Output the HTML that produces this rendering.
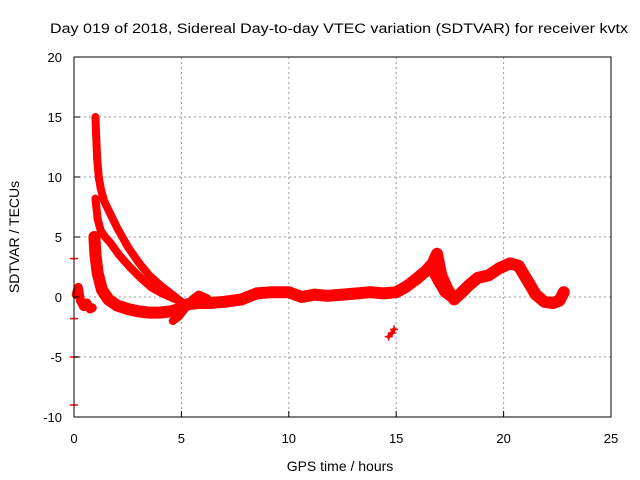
<!DOCTYPE html>
<html><head><meta charset="utf-8"><style>
html,body{margin:0;padding:0;background:#fff;}
svg{display:block;font-family:"Liberation Sans",sans-serif;}
</style></head><body>
<svg id="chart" width="640" height="480">
<text x="50" y="33" font-size="13.5" textLength="578" lengthAdjust="spacingAndGlyphs">Day 019 of 2018, Sidereal Day-to-day VTEC variation (SDTVAR) for receiver kvtx</text>
<g id="grid"></g>
<g id="series"></g>
<rect x="74" y="57" width="537" height="360" fill="none" stroke="#000" stroke-width="1"/>
<g id="ticks"></g>
<text x="340" y="471" font-size="14" text-anchor="middle">GPS time / hours</text>
<text transform="translate(19,237) rotate(-90)" font-size="14" text-anchor="middle">SDTVAR / TECUs</text>
</svg>
<script>
const xTicks=[0,5,10,15,20,25];
const yTicks=[-10,-5,0,5,10,15,20];
const traceUpperH=[1.0,1.03,1.08,1.15,1.25,1.4,1.7,2.0,2.5,3.0,3.5,4.0,4.5,5.0];
const traceUpperV=[15,13.5,11.5,10,9,8,6.9,5.8,4.2,2.9,1.8,1.0,0.3,-0.4];
const traceMidH=[1.0,1.1,1.25,1.45,1.7,2.1,2.6,3.1,3.6,4.1,4.6,5.0];
const traceMidV=[8.2,6.5,5.5,5.0,4.5,3.5,2.5,1.6,0.8,0.3,-0.1,-0.4];
const traceLowH=[0.95,1.0,1.1,1.3,1.6,2.0,2.5,3.0,3.5,4.0,4.5,4.9,5.3,5.8,6.3,7.0,7.8,8.5,9.2,10.0,10.6,11.2,11.8,12.5,13.2,13.8,14.4,15.0,15.5,16.0,16.4,16.7,16.9,17.1,17.4,17.7,18.0,18.4,18.8,19.3,19.8,20.3,20.7,21.1,21.5,21.9,22.3,22.6,22.8];
const traceLowV=[5,3.5,2,0.6,-0.2,-0.7,-1.0,-1.2,-1.3,-1.3,-1.2,-1.0,-0.6,-0.5,-0.5,-0.4,-0.2,0.3,0.4,0.4,0.0,0.2,0.1,0.2,0.3,0.4,0.3,0.4,0.9,1.6,2.2,2.8,3.6,1.8,0.6,-0.2,0.3,1.0,1.6,1.8,2.4,2.8,2.6,1.4,0.2,-0.4,-0.5,-0.3,0.4];
const traceDipH=[4.6,4.9,5.2,5.5,5.8,6.2];
const traceDipV=[-2.0,-1.6,-0.9,-0.2,0.2,-0.1];
const traceBranchH=[16.0,16.3,16.6,16.9,17.2,17.5];
const traceBranchV=[1.3,1.8,2.2,1.2,0.3,-0.1];
const traceEarlyH=[0.1,0.2,0.3,0.45,0.6,0.75,0.85];
const traceEarlyV=[0.2,0.8,-0.3,-0.8,-0.5,-1.0,-0.9];
const traceIsoH=[14.65,14.8,14.9];
const traceIsoV=[-3.3,-3.0,-2.7];
const loneH=[0.0,0.0,0.0,0.0];
const loneV=[3.2,-1.8,-5.0,-9.0];

const X=h=>74+h*(537/25);
const Y=v=>297-v*12;
const NS="http://www.w3.org/2000/svg";
const grid=document.getElementById('grid'),ticks=document.getElementById('ticks'),ser=document.getElementById('series'),svg=document.getElementById('chart');
function mk(tag,at,parent){const e=document.createElementNS(NS,tag);for(const k in at)e.setAttribute(k,at[k]);parent.appendChild(e);return e;}
xTicks.forEach(t=>{
  const x=X(t);
  if(t>0&&t<25){const g=mk('line',{x1:x,y1:57,x2:x,y2:417,stroke:'#999','stroke-dasharray':'2,3'},grid);
  
  }
  const tk=mk('line',{x1:x,y1:417,x2:x,y2:411,stroke:'#000'},ticks);
  
  
  const lb=mk('text',{x:x,y:443,'font-size':13,'text-anchor':'middle'},svg);lb.textContent=t;
  
  
});
yTicks.forEach(t=>{
  const y=Y(t);
  if(t>-10&&t<20){const g=mk('line',{x1:74,y1:y,x2:611,y2:y,stroke:'#999','stroke-dasharray':'2,3'},grid);
  
  }
  const tk=mk('line',{x1:74,y1:y,x2:80,y2:y,stroke:'#000'},ticks);
  
  
  const lb=mk('text',{x:62,y:y+5,'font-size':13,'text-anchor':'end'},svg);lb.textContent=t;
  
  
});
function trace(H,V,w,name){
  if(H.length>1){const pl=mk('polyline',{points:H.map((h,i)=>X(h)+','+Y(V[i])).join(' '),fill:'none',stroke:'#f00','stroke-width':w,'stroke-linejoin':'round','stroke-linecap':'round'},ser);
  
  }
  H.forEach((h,i)=>{const x=X(h),y=Y(V[i]);
    const p=mk('path',{d:`M${x-4},${y}H${x+4}M${x},${y-4}V${y+4}`,stroke:'#f00','stroke-width':1.5},ser);
    
    });
}
trace(traceUpperH,traceUpperV,8,'upper-trace');
trace(traceMidH,traceMidV,8,'middle-trace');
trace(traceLowH,traceLowV,12,'main-trace');
trace(traceDipH,traceDipV,8,'dip-trace');
trace(traceBranchH,traceBranchV,7,'branch-trace');
trace(traceEarlyH,traceEarlyV,9,'early-trace');
trace(traceIsoH,traceIsoV,4,'isolated-trace');
loneH.forEach((h,i)=>{const x=X(h),y=Y(loneV[i]);
  const p=mk('path',{d:`M${x-4},${y}H${x+4}`,stroke:'#f00','stroke-width':1.5},ser);
  
  });
</script>
</body></html>
